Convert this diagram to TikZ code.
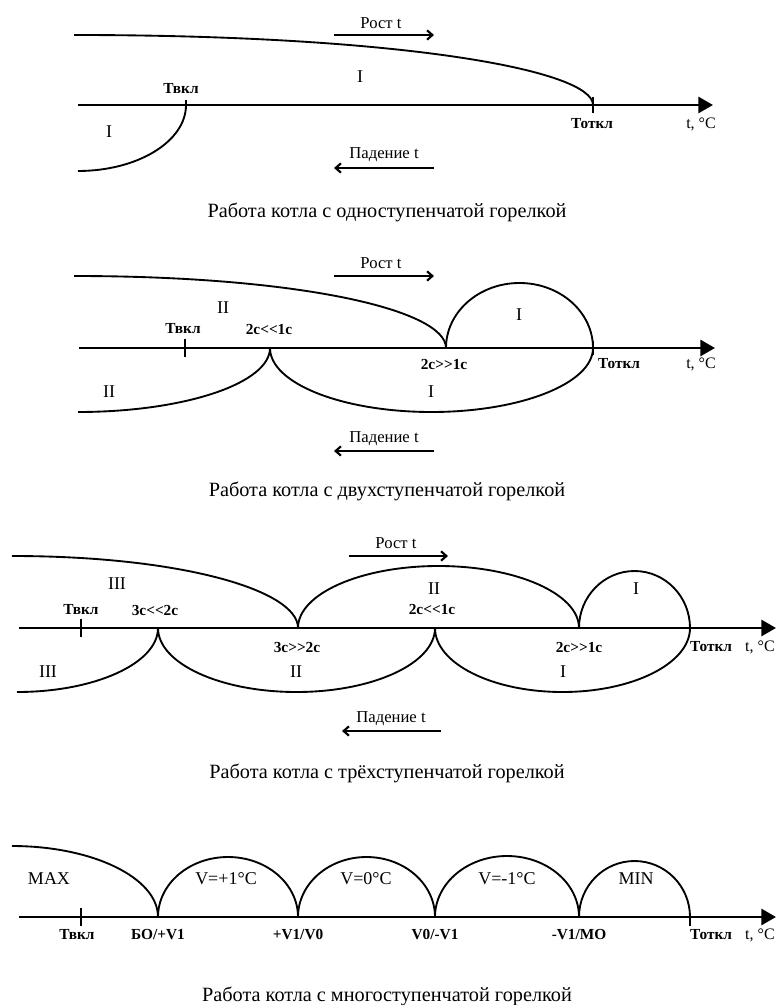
\documentclass[tikz,border=0pt]{standalone}
\usepackage{fontspec}
\setmainfont{Liberation Serif}
\usetikzlibrary{arrows.meta}

\tikzset{
  curve/.style={line width=1.4pt},
  axisline/.style={line width=2.2pt, -{Triangle[length=11pt,width=12pt]}},
  tickmark/.style={line width=1.3pt},
  dirarrow/.style={line width=1.6pt, -{Straight Barb[length=4pt,width=7pt]}},
  zone/.style={font=\fontsize{13.5}{15}\selectfont, inner sep=0pt},
  pointlabel/.style={font=\bfseries\fontsize{11.5}{13}\selectfont, inner sep=0pt},
  unitlabel/.style={font=\fontsize{12}{13}\selectfont, inner sep=0pt},
  dirlabel/.style={font=\fontsize{12.5}{14}\selectfont, inner sep=0pt},
  caption/.style={font=\fontsize{15.2}{17}\selectfont, inner sep=0pt},
}

\begin{document}
\begin{tikzpicture}[x=0.75pt, y=-0.75pt]
\useasboundingbox (0,0) rectangle (776,1005);
\clip (0,0) rectangle (776,1005);

% ---------- single-stage burner ----------
\coordinate (a1s) at (78,105);
\coordinate (a1e) at (713,105);
\coordinate (a1on) at (186,105);
\coordinate (a1off) at (593,105);
\coordinate (a1top) at (74,35);
\draw[axisline] (a1s) -- (a1e);
\draw[curve] (a1top) .. controls (400,35) and (593,70) .. (a1off);
\draw[curve] (a1on) arc[start angle=0, end angle=90, x radius=108, y radius=66];
\draw[tickmark] (a1on) -- ++(0,-5);
\draw[tickmark] (a1off) ++(0,-8) -- ++(0,16);
\node[dirlabel] (r1) at (381,23) {Рост t};
\coordinate (r1a) at (334,35); \coordinate (r1b) at (434,35);
\draw[dirarrow] (r1a) -- (r1b);
\node[zone] (z1a) at (360,77) {I};
\node[zone] (z1b) at (109,132) {I};
\node[pointlabel] (on1) at (181,89) {Твкл};
\node[pointlabel] (off1) at (592,124) {Тоткл};
\node[unitlabel] (u1) at (701,124) {t, °C};
\node[dirlabel] (f1) at (384,155) {Падение t};
\coordinate (f1a) at (434,168); \coordinate (f1b) at (334,168);
\draw[dirarrow] (f1a) -- (f1b);
\node[caption] (c1) at (387,212) {Работа котла с одноступенчатой горелкой};

% ---------- two-stage burner ----------
\coordinate (a2s) at (79,348);
\coordinate (a2e) at (715,348);
\coordinate (a2top) at (74,276);
\coordinate (a2x) at (446,348);
\coordinate (a2y) at (270,348);
\coordinate (a2on) at (185,348);
\coordinate (a2off) at (593,348);
\draw[axisline] (a2s) -- (a2e);
\draw[curve] (a2top) .. controls (300,276) and (446,310) .. (a2x);
\draw[curve] (a2x) arc[start angle=180, end angle=360, x radius=73.5, y radius=65];
\draw[curve] (a2y) arc[start angle=0, end angle=90, x radius=192, y radius=64];
\draw[curve] (a2y) arc[start angle=180, end angle=0, x radius=161.5, y radius=64];
\draw[tickmark] (a2on) ++(0,-9) -- ++(0,18);
\draw[tickmark] (a2off) ++(0,-7) -- ++(0,14);
\node[dirlabel] (r2) at (381,263) {Рост t};
\coordinate (r2a) at (334,276); \coordinate (r2b) at (434,276);
\draw[dirarrow] (r2a) -- (r2b);
\node[zone] (z2a) at (223,308) {II};
\node[zone] (z2b) at (519,315) {I};
\node[zone] (z2c) at (109,392) {II};
\node[zone] (z2d) at (431,392) {I};
\node[pointlabel] (on2) at (183,329) {Твкл};
\node[pointlabel] (s2a) at (269,329) {2с{<}{<}1с};
\node[pointlabel] (s2b) at (444,364) {2с{>}{>}1с};
\node[pointlabel] (off2) at (619,364) {Тоткл};
\node[unitlabel] (u2) at (701,364) {t, °C};
\node[dirlabel] (f2) at (384,439) {Падение t};
\coordinate (f2a) at (434,451); \coordinate (f2b) at (334,451);
\draw[dirarrow] (f2a) -- (f2b);
\node[caption] (c2) at (387,491) {Работа котла с двухступенчатой горелкой};

% ---------- three-stage burner ----------
\coordinate (a3s) at (19,628);
\coordinate (a3e) at (776,628);
\coordinate (a3top) at (12,556);
\coordinate (a3p) at (158,628);
\coordinate (a3q) at (298,628);
\coordinate (a3r) at (435,628);
\coordinate (a3t) at (579,628);
\coordinate (a3on) at (81,628);
\draw[axisline] (a3s) -- (a3e);
\draw[curve] (a3top) .. controls (180,556) and (298,590) .. (a3q);
\draw[curve] (a3q) arc[start angle=180, end angle=360, x radius=140.5, y radius=62];
\draw[curve] (a3t) arc[start angle=180, end angle=360, x radius=55.5, y radius=57];
\draw[curve] (a3p) arc[start angle=0, end angle=90, x radius=141, y radius=64];
\draw[curve] (a3p) arc[start angle=180, end angle=0, x radius=138.5, y radius=64];
\draw[curve] (a3r) arc[start angle=180, end angle=0, x radius=127.5, y radius=64];
\draw[tickmark] (a3on) ++(0,-9) -- ++(0,18);
\node[dirlabel] (r3) at (396,543) {Рост t};
\coordinate (r3a) at (349,556); \coordinate (r3b) at (448,556);
\draw[dirarrow] (r3a) -- (r3b);
\node[zone] (z3a) at (117,584) {III};
\node[zone] (z3b) at (434,589) {II};
\node[zone] (z3c) at (636,589) {I};
\node[zone] (z3d) at (48,672) {III};
\node[zone] (z3e) at (296,672) {II};
\node[zone] (z3f) at (563,672) {I};
\node[pointlabel] (on3) at (81,610) {Твкл};
\node[pointlabel] (s3a) at (155,610) {3с{<}{<}2с};
\node[pointlabel] (s3b) at (432,609) {2с{<}{<}1с};
\node[pointlabel] (s3c) at (297,647) {3с{>}{>}2с};
\node[pointlabel] (s3d) at (579,647) {2с{>}{>}1с};
\node[pointlabel] (off3) at (711,647) {Тоткл};
\node[unitlabel, anchor=east] (u3) at (775,647) {t, °C};
\node[dirlabel] (f3) at (391,719) {Падение t};
\coordinate (f3a) at (441,731); \coordinate (f3b) at (342,731);
\draw[dirarrow] (f3a) -- (f3b);
\node[caption] (c3) at (387,773) {Работа котла с трёхступенчатой горелкой};

% ---------- modulating burner ----------
\coordinate (a4s) at (19,917);
\coordinate (a4e) at (776,917);
\coordinate (a4top) at (12,846);
\coordinate (a4p) at (158,917);
\coordinate (a4q) at (298,917);
\coordinate (a4r) at (435,917);
\coordinate (a4t) at (579,917);
\coordinate (a4on) at (81,917);
\coordinate (a4off) at (690,917);
\draw[axisline] (a4s) -- (a4e);
\draw[curve] (a4top) arc[start angle=270, end angle=360, x radius=146, y radius=71];
\draw[curve] (a4p) arc[start angle=180, end angle=360, x radius=70, y radius=60];
\draw[curve] (a4q) arc[start angle=180, end angle=360, x radius=68.5, y radius=60];
\draw[curve] (a4r) arc[start angle=180, end angle=360, x radius=72, y radius=61];
\draw[curve] (a4t) arc[start angle=180, end angle=360, x radius=55.5, y radius=56];
\draw[tickmark] (a4on) ++(0,-9) -- ++(0,18);
\draw[tickmark] (a4off) -- ++(0,9);
\node[zone] (m4a) at (49,879) {MAX};
\node[zone] (m4b) at (226,879) {V=+1°C};
\node[zone] (m4c) at (366,879) {V=0°C};
\node[zone] (m4d) at (507,879) {V=-1°C};
\node[zone] (m4e) at (636,879) {MIN};
\node[pointlabel] (on4) at (77,935) {Твкл};
\node[pointlabel] (s4a) at (158,935) {БО/+V1};
\node[pointlabel] (s4b) at (298,935) {+V1/V0};
\node[pointlabel] (s4c) at (435,935) {V0/-V1};
\node[pointlabel] (s4d) at (579,935) {-V1/МО};
\node[pointlabel] (off4) at (711,935) {Тоткл};
\node[unitlabel, anchor=east] (u4) at (775,935) {t, °C};
\node[caption] (c4) at (387,996) {Работа котла с многоступенчатой горелкой};
\end{tikzpicture}
\end{document}
